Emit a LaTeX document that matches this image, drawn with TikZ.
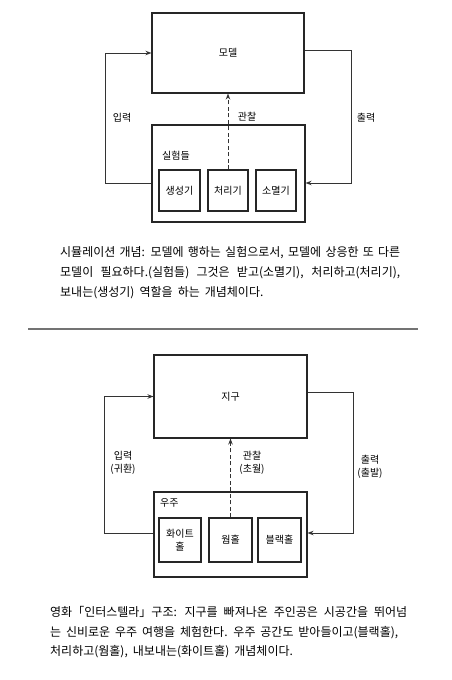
\documentclass[tikz,border=0pt]{standalone}
\usepackage{fontspec}
\setmainfont{Noto Sans CJK KR}
\usetikzlibrary{arrows.meta}
\newcommand{\capspaces}{\spaceskip=0.42em plus 0.4em minus 0.15em\relax}
\begin{document}
\begin{tikzpicture}[x=1pt,y=-1pt,
  box/.style={draw=black!85, line width=1.1pt, inner sep=0pt, align=center, font=\fontsize{10}{12.5}\selectfont},
  lbl/.style={inner sep=0pt, align=center, font=\fontsize{10}{13}\selectfont},
  arr/.style={draw=black!80, line width=1pt, -{Stealth[length=6pt,width=4.5pt]}},
  dasharr/.style={arr, dashed, dash pattern=on 4pt off 2.5pt},
  captxt/.style={anchor=west, inner sep=0pt, font=\fontsize{12}{16}\selectfont\capspaces}]
\useasboundingbox (0,0) rectangle (452,680);
\fill[white] (0,0) rectangle (452,680);

% ---------- top diagram ----------
\node[box, minimum width=152pt, minimum height=80pt] (model) at (228,53) {모델};
\node[box, minimum width=153pt, minimum height=97pt] (exp) at (228.5,173.5) {};
\node[lbl, anchor=west] (explbl) at (162,156) {실험들};
\node[box, minimum width=41pt, minimum height=41pt] (gen) at (179.5,190.5) {생성기};
\node[box, minimum width=40pt, minimum height=41pt] (proc) at (228,190.5) {처리기};
\node[box, minimum width=40pt, minimum height=41pt] (dest) at (276,190.5) {소멸기};

\coordinate (tl) at (105,183);
\coordinate (tr) at (351,183);
\draw[arr] (exp.west |- tl) -- (tl) |- (model.west);
\draw[arr] (model.east |- 0,50) -| (tr) -- (exp.east |- tr);
\draw[dasharr] (proc.north) -- (model.south);
\node[lbl] (in1) at (122,118) {입력};
\node[lbl] (out1) at (366,118) {출력};
\node[lbl] (obs1) at (247,117) {관찰};

% ---------- caption 1 ----------
\node[captxt] (c1a) at (60,253) {\makebox[340pt][s]{\capspaces 시뮬레이션 개념: 모델에 행하는 실험으로서, 모델에 상응한 또 다른}};
\node[captxt] (c1b) at (60,273) {\makebox[340pt][s]{\capspaces 모델이 필요하다.(실험들) 그것은 받고(소멸기), 처리하고(처리기),}};
\node[captxt] (c1c) at (60,293) {보내는(생성기) 역할을 하는 개념체이다.};

% divider
\coordinate (d1) at (28,329);
\coordinate (d2) at (418,329);
\draw[black!55, line width=1.5pt] (d1) -- (d2);

% ---------- bottom diagram ----------
\node[box, minimum width=153pt, minimum height=83pt] (earth) at (230.5,396.5) {지구};
\node[box, minimum width=153pt, minimum height=85pt] (univ) at (230.5,534.5) {};
\node[lbl, anchor=west] (univlbl) at (160,503) {우주};
\node[box, minimum width=42pt, minimum height=44pt] (white) at (180,540) {화이트\\홀};
\node[box, minimum width=43pt, minimum height=44pt] (worm) at (230.5,540) {웜홀};
\node[box, minimum width=43pt, minimum height=44pt] (black) at (279.5,540) {블랙홀};

\coordinate (bl) at (104,533);
\coordinate (br) at (353,533);
\draw[arr] (univ.west |- bl) -- (bl) |- (earth.west);
\draw[arr] (earth.east |- 0,392) -| (br) -- (univ.east |- br);
\draw[dasharr] (worm.north) -- (earth.south);
\node[lbl] (in2) at (123,463) {입력\\(귀환)};
\node[lbl] (out2) at (370,467) {출력\\(출발)};
\node[lbl] (obs2) at (252,463) {관찰\\(초월)};

% ---------- caption 2 ----------
\node[captxt] (c2a) at (50,612) {\makebox[357pt][s]{\capspaces 영화「인터스텔라」구조: 지구를 빠져나온 주인공은 시공간을 뛰어넘}};
\node[captxt] (c2b) at (50,633) {\makebox[348pt][s]{\capspaces 는 신비로운 우주 여행을 체험한다. 우주 공간도 받아들이고(블랙홀),}};
\node[captxt] (c2c) at (50,652) {처리하고(웜홀), 내보내는(화이트홀) 개념체이다.};
\end{tikzpicture}
\end{document}
